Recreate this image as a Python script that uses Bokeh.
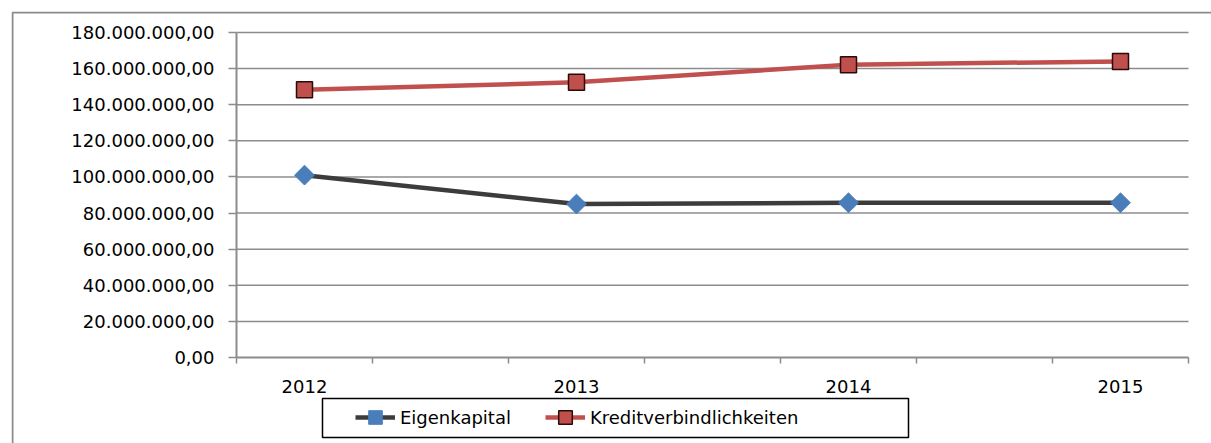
from bokeh.plotting import figure
from bokeh.models import (Range1d, FixedTicker, Legend, LegendItem, BoxAnnotation,
                          LinearAxis)
from bokeh.embed import file_html
from bokeh.resources import INLINE

# ---- data ----
years = ["2012", "2013", "2014", "2015"]
eigenkapital = [101_000_000, 85_000_000, 85_700_000, 85_700_000]
kredit = [148_300_000, 152_400_000, 162_200_000, 164_000_000]
y_ticks = [0, 20e6, 40e6, 60e6, 80e6, 100e6, 120e6, 140e6, 160e6, 180e6]
y_tick_labels = ["0,00", "20.000.000,00", "40.000.000,00", "60.000.000,00",
                 "80.000.000,00", "100.000.000,00", "120.000.000,00",
                 "140.000.000,00", "160.000.000,00", "180.000.000,00"]

xs = list(range(len(years)))
FONT = "DejaVu Sans"
FS = "18px"
GRID = "#8c8c8c"

# layout in canvas pixels (the frame covers the whole canvas)
W, H = 1200, 432
PLOT_L, PLOT_R = 225, 1177      # canvas x of the plot-area edges
PLOT_T, AXIS_Y = 21, 346        # canvas y of top value and of 0
Y_MAX = 180e6
X0, X1 = -0.25, len(years) - 0.75
px_x = (PLOT_R - PLOT_L) / (X1 - X0)
px_y = (AXIS_Y - PLOT_T) / Y_MAX

p = figure(width=W, height=H, output_backend="svg", toolbar_location=None,
           x_range=Range1d(X0 - PLOT_L / px_x, X1 + (W - PLOT_R) / px_x),
           y_range=Range1d(-(H - AXIS_Y) / px_y, Y_MAX + PLOT_T / px_y),
           min_border=0, x_axis_location=None, y_axis_location=None,
           styles={"margin-left": "11px", "margin-top": "11px"})
p.outline_line_color = None
p.background_fill_color = "white"
p.border_fill_color = "white"
p.xgrid.visible = False
p.ygrid.visible = False

# horizontal grid lines across the plot area only
grid_vals = y_ticks[1:]
p.segment(x0=[X0] * len(grid_vals), x1=[X1] * len(grid_vals), y0=grid_vals, y1=grid_vals,
          line_color=GRID, line_width=1.5, level="underlay")

yaxis = LinearAxis(ticker=FixedTicker(ticks=y_ticks),
                   major_label_overrides={t: l for t, l in zip(y_ticks, y_tick_labels)},
                   fixed_location=X0, bounds=(0, Y_MAX),
                   axis_line_color=GRID, axis_line_width=2,
                   major_tick_line_color=GRID, major_tick_line_width=1.5,
                   major_tick_out=8, major_tick_in=0, minor_tick_line_color=None,
                   major_label_text_font=FONT, major_label_text_font_size=FS,
                   major_label_text_color="black", major_label_standoff=14)
p.add_layout(yaxis, "left")

minor = sorted([i - 0.25 for i in xs] + [i + 0.25 for i in xs])
xaxis = LinearAxis(ticker=FixedTicker(ticks=xs, minor_ticks=minor),
                   major_label_overrides={i: y for i, y in zip(xs, years)},
                   fixed_location=0, bounds=(X0, X1),
                   axis_line_color=GRID, axis_line_width=2,
                   major_tick_out=0, major_tick_in=0, major_tick_line_color=None,
                   minor_tick_line_color=GRID, minor_tick_line_width=1.5,
                   minor_tick_out=6, minor_tick_in=0,
                   major_label_text_font=FONT, major_label_text_font_size=FS,
                   major_label_text_color="black", major_label_standoff=16)
p.add_layout(xaxis, "below")

# series
l1 = p.line(xs, eigenkapital, line_color="#3c3c3c", line_width=4.5)
m1 = p.scatter(xs, eigenkapital, marker="square", angle=0.785398, size=14,
               fill_color="#4a7ebb", line_color="#4a7ebb", line_width=1)
l2 = p.line(xs, kredit, line_color="#c0504d", line_width=4.5)
m2 = p.scatter(xs, kredit, marker="square", size=16,
               fill_color="#c0504d", line_color="#2b0a0a", line_width=1.5)

legend = Legend(items=[LegendItem(label="Eigenkapital", renderers=[l1, m1]),
                       LegendItem(label="Kreditverbindlichkeiten", renderers=[l2, m2])],
                orientation="horizontal", location=(344, 9),
                padding=0, margin=0, spacing=34, glyph_width=40, glyph_height=34,
                label_standoff=5, label_text_font=FONT, label_text_font_size=FS,
                label_text_color="black", border_line_color=None,
                background_fill_alpha=0)
p.add_layout(legend, "center")

# legend frame
p.add_layout(BoxAnnotation(left=311, right=897, bottom=6, top=45,
                           left_units="screen", right_units="screen",
                           top_units="screen", bottom_units="screen",
                           fill_color=None, line_color="black", line_alpha=1.0,
                           line_width=1.5, level="overlay"))
# outer chart border (left and top edges visible)
p.add_layout(BoxAnnotation(left=1, right=W + 20, bottom=-20, top=H - 1,
                           left_units="screen", right_units="screen",
                           top_units="screen", bottom_units="screen",
                           fill_color=None, line_color=GRID, line_alpha=1.0,
                           line_width=2, level="overlay"))

open("out.html", "w").write(file_html(p, INLINE))
